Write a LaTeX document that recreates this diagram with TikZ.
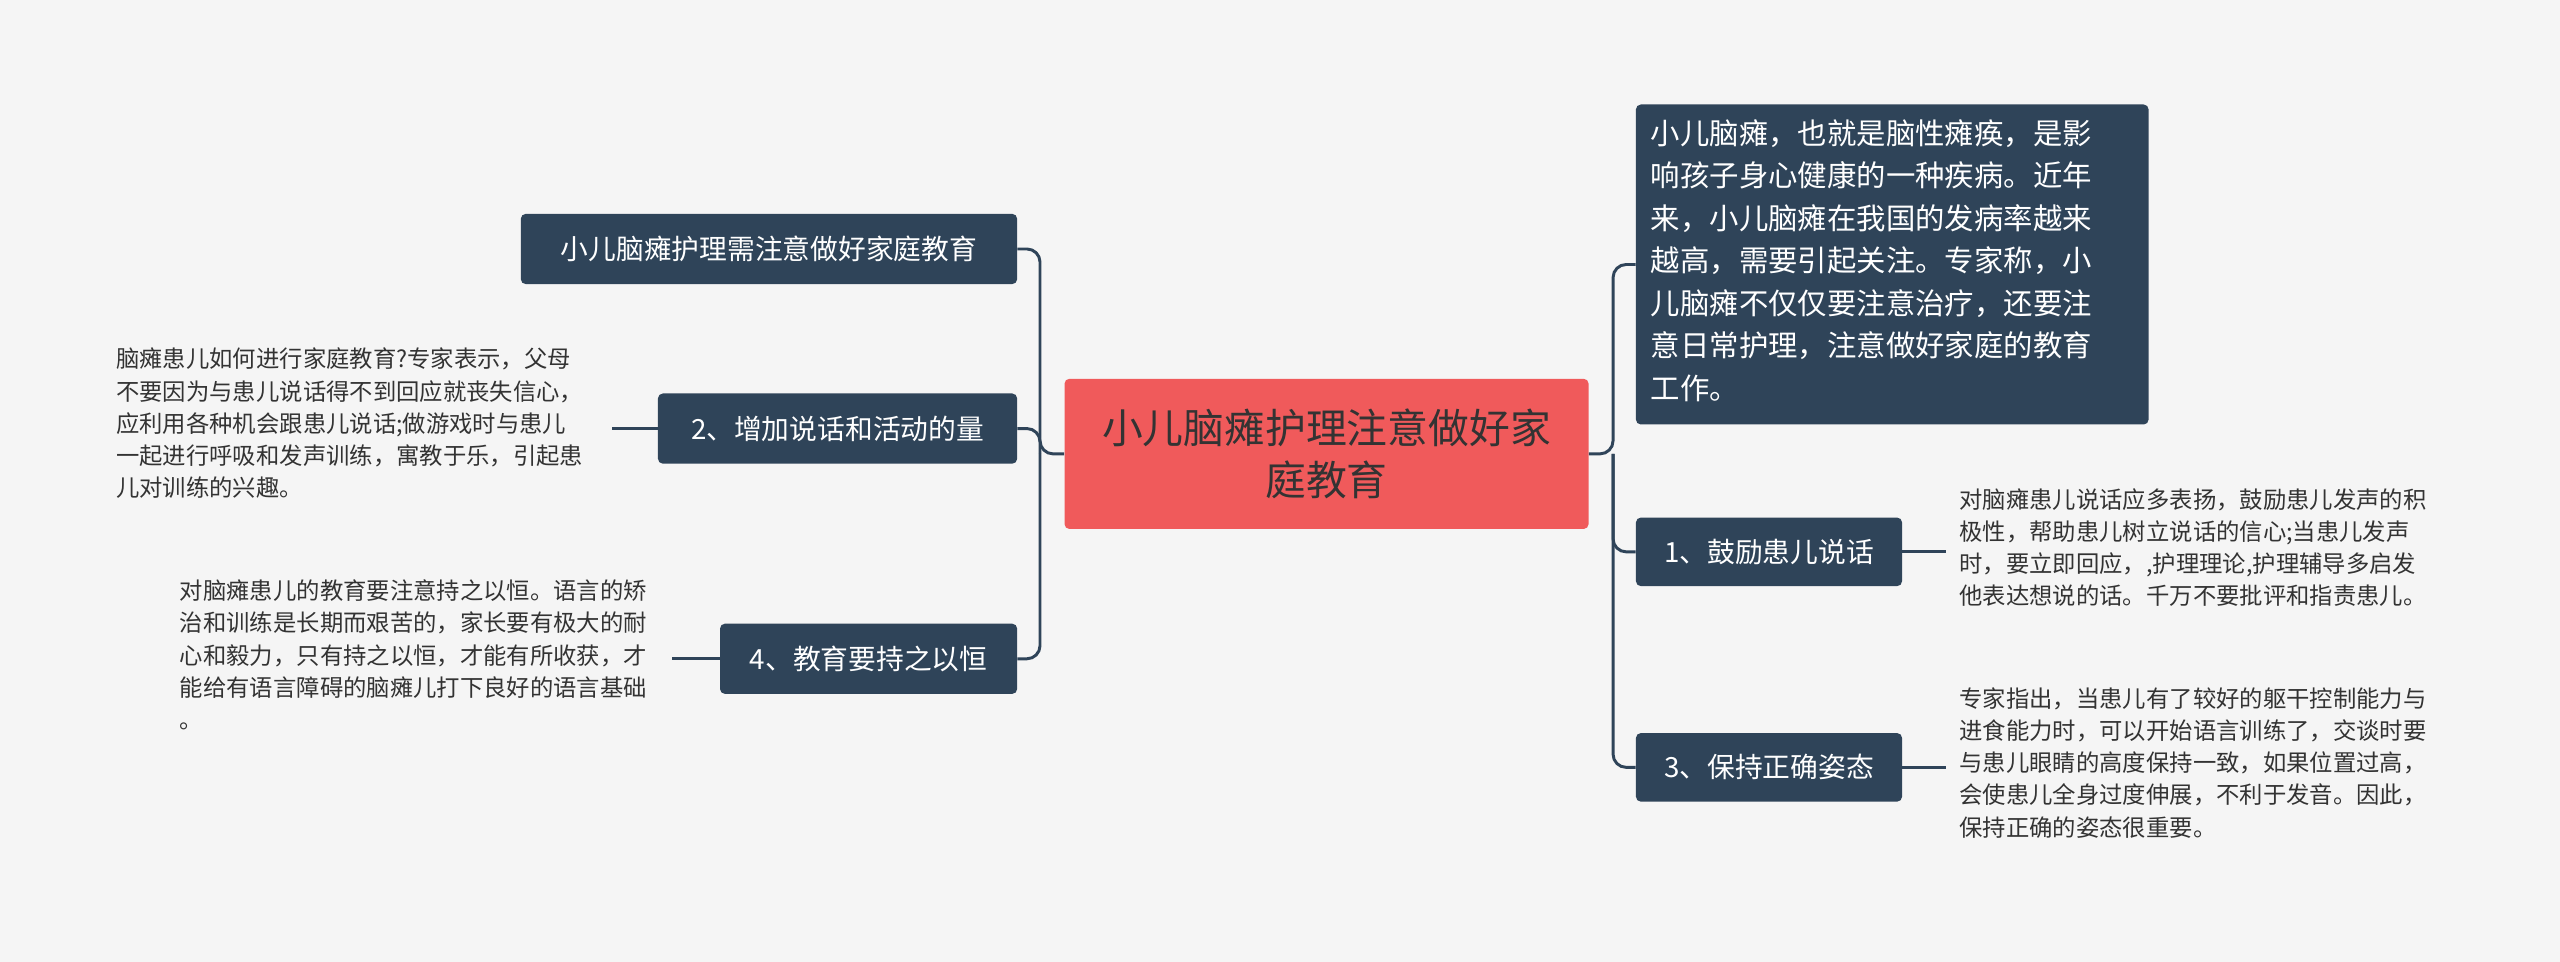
\documentclass[tikz,border=0pt]{standalone}
\usepackage{fontspec}
\setmainfont{Noto Sans CJK SC}
\definecolor{bg}{HTML}{F5F5F5}
\definecolor{dk}{HTML}{2F4459}
\definecolor{rd}{HTML}{F05A5B}
\definecolor{tx}{HTML}{333333}
\begin{document}
\begin{tikzpicture}[x=1pt,y=-1pt,
 dnode/.style={fill=dk,text=white,rounded corners=3pt,inner sep=0pt,font=\fontsize{17}{22}\selectfont},
 small/.style={text=tx,align=left,anchor=north west,inner sep=0pt,font=\fontsize{14.3}{19.7}\selectfont},
 conn/.style={draw=dk,line width=1.8pt,rounded corners=8pt}]
\fill[bg] (0,0) rectangle (1568,589);
\useasboundingbox (0,0) rectangle (1568,589);
\node[fill=rd,text=tx,rounded corners=3pt,minimum width=321pt,minimum height=92pt,align=center,inner sep=0pt,font=\fontsize{25}{32}\selectfont] (c) at (812.5,278) {小儿脑瘫护理注意做好家\\庭教育};
\node[dnode,minimum width=314pt,minimum height=196pt] (r0) at (1159,162) {};
\node[anchor=north west,text=white,align=left,inner sep=0pt,font=\fontsize{18}{26}\selectfont] (r0t) at (1011,73) {小儿脑瘫，也就是脑性瘫痪，是影\\响孩子身心健康的一种疾病。近年\\来，小儿脑瘫在我国的发病率越来\\越高，需要引起关注。专家称，小\\儿脑瘫不仅仅要注意治疗，还要注\\意日常护理，注意做好家庭的教育\\工作。};
\node[dnode,minimum width=163pt,minimum height=42pt] (r1) at (1083.5,338) {1、鼓励患儿说话};
\node[dnode,minimum width=163pt,minimum height=42pt] (r3) at (1083.5,470) {3、保持正确姿态};
\node[dnode,minimum width=304pt,minimum height=43pt] (l1) at (471,152.5) {小儿脑瘫护理需注意做好家庭教育};
\node[dnode,minimum width=220pt,minimum height=43pt] (l2) at (513,262.5) {2、增加说话和活动的量};
\node[dnode,minimum width=182pt,minimum height=43pt] (l4) at (532,403.5) {4、教育要持之以恒};
\node[small] (t2) at (71,213) {脑瘫患儿如何进行家庭教育?专家表示，父母\\不要因为与患儿说话得不到回应就丧失信心，\\应利用各种机会跟患儿说话;做游戏时与患儿\\一起进行呼吸和发声训练，寓教于乐，引起患\\儿对训练的兴趣。};
\node[small] (t4) at (110,355) {对脑瘫患儿的教育要注意持之以恒。语言的矫\\治和训练是长期而艰苦的，家长要有极大的耐\\心和毅力，只有持之以恒，才能有所收获，才\\能给有语言障碍的脑瘫儿打下良好的语言基础\\。};
\node[small] (t1) at (1200,299) {对脑瘫患儿说话应多表扬，鼓励患儿发声的积\\极性，帮助患儿树立说话的信心;当患儿发声\\时，要立即回应，,护理理论,护理辅导多启发\\他表达想说的话。千万不要批评和指责患儿。};
\node[small] (t3) at (1200,421) {专家指出，当患儿有了较好的躯干控制能力与\\进食能力时，可以开始语言训练了，交谈时要\\与患儿眼睛的高度保持一致，如果位置过高，\\会使患儿全身过度伸展，不利于发音。因此，\\保持正确的姿态很重要。};
\coordinate (lj) at (637,278);
\coordinate (rj) at (988,278);
\draw[conn] (c.west) -- (lj) |- (l1.east);
\draw[conn] (lj) |- (l2.east);
\draw[conn] (lj) |- (l4.east);
\draw[conn] (c.east) -- (rj) |- (r0.west);
\draw[conn] (rj) |- (r1.west);
\draw[conn] (rj) |- (r3.west);
\draw[conn,rounded corners=0pt] (l2.west) -- ++(-28,0) coordinate (e2);
\draw[conn,rounded corners=0pt] (l4.west) -- ++(-29,0) coordinate (e4);
\draw[conn,rounded corners=0pt] (r1.east) -- ++(27,0) coordinate (e1);
\draw[conn,rounded corners=0pt] (r3.east) -- ++(27,0) coordinate (e3);
\end{tikzpicture}
\end{document}
